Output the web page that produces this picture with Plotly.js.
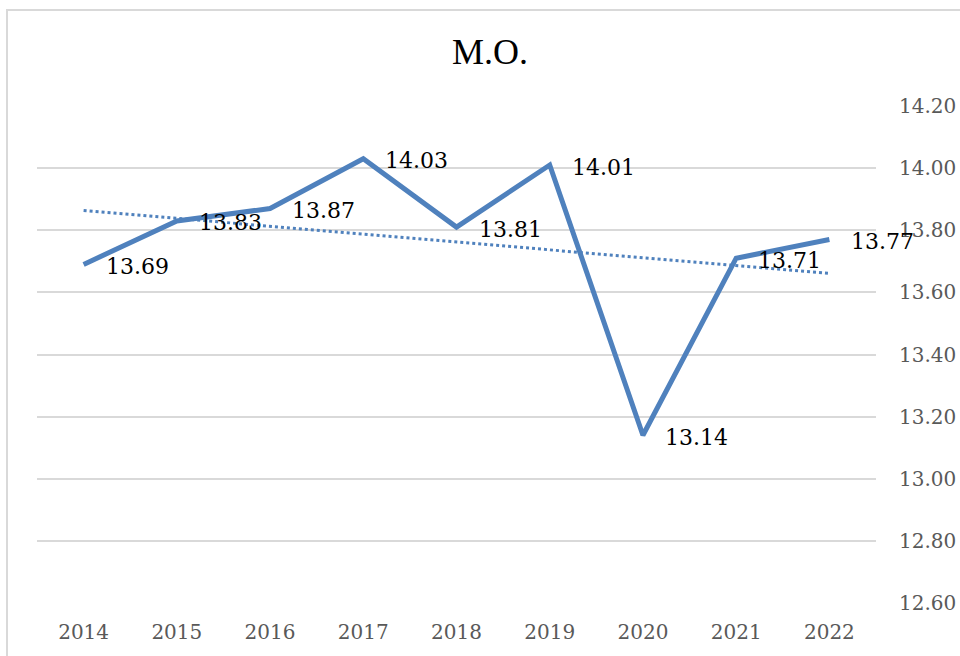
<!DOCTYPE html>
<html>
<head>
<meta charset="utf-8">
<script src="https://cdn.plot.ly/plotly-3.0.1.min.js"></script>
<style>
html,body{margin:0;padding:0;background:#fff;}
#chart{width:960px;height:656px;}
</style>
</head>
<body>
<div id="chart"></div>
<script>
const years = ["2014","2015","2016","2017","2018","2019","2020","2021","2022"];
const values = [13.69, 13.83, 13.87, 14.03, 13.81, 14.01, 13.14, 13.71, 13.77];
const yTicks = [12.6, 12.8, 13.0, 13.2, 13.4, 13.6, 13.8, 14.0, 14.2];
const chartTitle = "M.O.";

// Linear trendline (least squares) from the data
const n = values.length;
const xs = values.map((_, i) => i);
const mx = xs.reduce((a, b) => a + b, 0) / n;
const my = values.reduce((a, b) => a + b, 0) / n;
let sxy = 0, sxx = 0;
for (let i = 0; i < n; i++) { sxy += (xs[i] - mx) * (values[i] - my); sxx += (xs[i] - mx) ** 2; }
const slope = sxy / sxx;
const intercept = my - slope * mx;
const trend = xs.map(x => intercept + slope * x);

const blue = "#4F81BD";
const serif = "DejaVu Serif";
const titleFont = "Liberation Serif";

const traces = [
  {
    x: xs, y: trend, type: "scatter", mode: "lines",
    line: {color: blue, width: 3, dash: "dot"},
    hoverinfo: "skip", showlegend: false
  },
  {
    x: xs, y: values, type: "scatter", mode: "lines",
    line: {color: blue, width: 5},
    showlegend: false
  }
];

const annotations = values.map((v, i) => ({
  x: i, y: v, xref: "x", yref: "y",
  text: v.toFixed(2), showarrow: false,
  xanchor: "left", yanchor: "middle",
  xshift: 20, yshift: -2,
  font: {family: serif, size: 22, color: "#000000"}
}));

const layout = {
  width: 960, height: 656,
  margin: {l: 37, r: 84, t: 106, b: 53},
  paper_bgcolor: "#ffffff", plot_bgcolor: "#ffffff",
  font: {family: serif},
  title: {
    text: chartTitle,
    font: {family: titleFont, size: 36, color: "#000000"},
    x: 0.54, xref: "paper", xanchor: "center", y: 0.921, yanchor: "middle"
  },
  xaxis: {
    tickmode: "array", tickvals: xs, ticktext: years,
    range: [-0.5, 8.5], showgrid: false, zeroline: false,
    showline: false, ticks: "",
    ticklabelstandoff: 15,
    tickfont: {family: serif, size: 20, color: "#595959"}
  },
  yaxis: {
    side: "right", range: [12.6, 14.2],
    tickmode: "array", tickvals: yTicks,
    ticktext: yTicks.map(t => t.toFixed(2)),
    showgrid: true, gridcolor: "#d9d9d9", gridwidth: 2,
    zeroline: false, showline: false, ticks: "",
    ticklabelstandoff: 22,
    tickfont: {family: serif, size: 20, color: "#595959"}
  },
  annotations: annotations,
  shapes: [{
    type: "rect", xref: "paper", yref: "paper",
    x0: (7 - 37) / 839, x1: 1.3,
    y0: -0.3, y1: (603 - 10) / 497,
    line: {color: "#d9d9d9", width: 2}, fillcolor: "rgba(0,0,0,0)",
    layer: "below"
  }],
  showlegend: false
};

Plotly.newPlot("chart", traces, layout, {displayModeBar: false, staticPlot: true});
</script>
</body>
</html>
